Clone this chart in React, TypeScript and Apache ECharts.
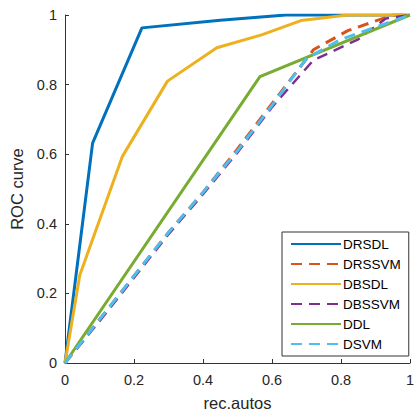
import React, { useEffect, useRef } from "react";
import * as echarts from "echarts";

const seriesNames = ["DRSDL", "DRSSVM", "DBSDL", "DBSSVM", "DDL", "DSVM"];

const drsdl: [number, number][] = [[0, 0], [0.08, 0.632], [0.223, 0.963], [0.45, 0.985], [0.64, 1.0], [1, 1]];
const drssvm: [number, number][] = [[0, 0], [0.1, 0.125], [0.2, 0.25], [0.3, 0.375], [0.4, 0.49], [0.5, 0.615], [0.6, 0.745], [0.72, 0.9], [0.82, 0.955], [0.95, 1.0], [1, 1]];
const dbsdl: [number, number][] = [[0, 0], [0.043, 0.253], [0.166, 0.593], [0.297, 0.81], [0.44, 0.906], [0.57, 0.943], [0.684, 0.984], [0.82, 1.0], [1, 1]];
const dbssvm: [number, number][] = [[0, 0], [0.1, 0.12], [0.2, 0.245], [0.3, 0.37], [0.4, 0.485], [0.5, 0.605], [0.6, 0.735], [0.72, 0.87], [0.85, 0.93], [0.93, 0.99], [1, 1]];
const ddl: [number, number][] = [[0, 0], [0.565, 0.823], [1, 1]];
const dsvm: [number, number][] = [[0, 0], [0.1, 0.125], [0.2, 0.25], [0.3, 0.375], [0.4, 0.49], [0.5, 0.61], [0.6, 0.74], [0.7, 0.875], [0.8, 0.93], [1, 1]];

const seriesData = [drsdl, drssvm, dbsdl, dbssvm, ddl, dsvm];
const colors = ["#0072BD", "#D95319", "#EDB120", "#7E2F8E", "#77AC30", "#4DBEEE"];
const dashed = [false, true, false, true, false, true];
const widths = [3, 3, 3, 2.5, 3, 3];

export default function App() {
  const ref = useRef<HTMLDivElement>(null);
  useEffect(() => {
    if (!ref.current) return;
    const chart = echarts.init(ref.current, undefined, { renderer: "svg" });
    const axisColor = "#333333";
    const font = "Liberation Sans, Arial, sans-serif";
    chart.setOption({
      animation: false,
      grid: { left: 65, right: 4, top: 15, bottom: 54, containLabel: false },
      xAxis: {
        type: "value",
        min: 0,
        max: 1,
        interval: 0.2,
        name: "rec.autos",
        nameLocation: "middle",
        nameGap: 31,
        nameTextStyle: { color: "#262626", fontSize: 16.5, fontFamily: font },
        axisLine: { show: true, lineStyle: { color: axisColor, width: 1 } },
        axisTick: { show: true, inside: true, length: 4, lineStyle: { color: axisColor } },
        axisLabel: { color: "#262626", fontSize: 14.5, fontFamily: font, margin: 9, formatter: (v: number) => String(+v.toFixed(1)) },
        splitLine: { show: false },
      },
      yAxis: {
        type: "value",
        min: 0,
        max: 1,
        interval: 0.2,
        name: "ROC curve",
        nameLocation: "middle",
        nameGap: 35,
        nameTextStyle: { color: "#262626", fontSize: 16.5, fontFamily: font },
        axisLine: { show: true, lineStyle: { color: axisColor, width: 1 } },
        axisTick: { show: true, inside: true, length: 4, lineStyle: { color: axisColor } },
        axisLabel: { color: "#262626", fontSize: 14.5, fontFamily: font, margin: 8, formatter: (v: number) => String(+v.toFixed(1)) },
        splitLine: { show: false },
      },
      legend: {
        orient: "vertical",
        left: 282,
        top: 232,
        itemWidth: 50,
        itemHeight: 10,
        itemGap: 6,
        padding: [5, 8, 5, 8],
        borderColor: "#333333",
        borderWidth: 1,
        backgroundColor: "#ffffff",
        itemStyle: { opacity: 0 },
        textStyle: { color: "#000000", fontSize: 13.5, fontFamily: font, padding: [0, 0, 0, -3] },
        data: seriesNames,
      },
      series: seriesNames.map((name, i) => ({
        name,
        type: "line",
        data: seriesData[i],
        symbol: "none",
        smooth: false,
        color: colors[i],
        lineStyle: {
          color: colors[i],
          width: widths[i],
          type: dashed[i] ? [11, 7] : "solid",
        },
        z: 2 + i,
      })),
    });
    return () => chart.dispose();
  }, []);
  return <div ref={ref} style={{ width: 417, height: 417, position: "absolute", left: 0, top: 0 }} />;
}
